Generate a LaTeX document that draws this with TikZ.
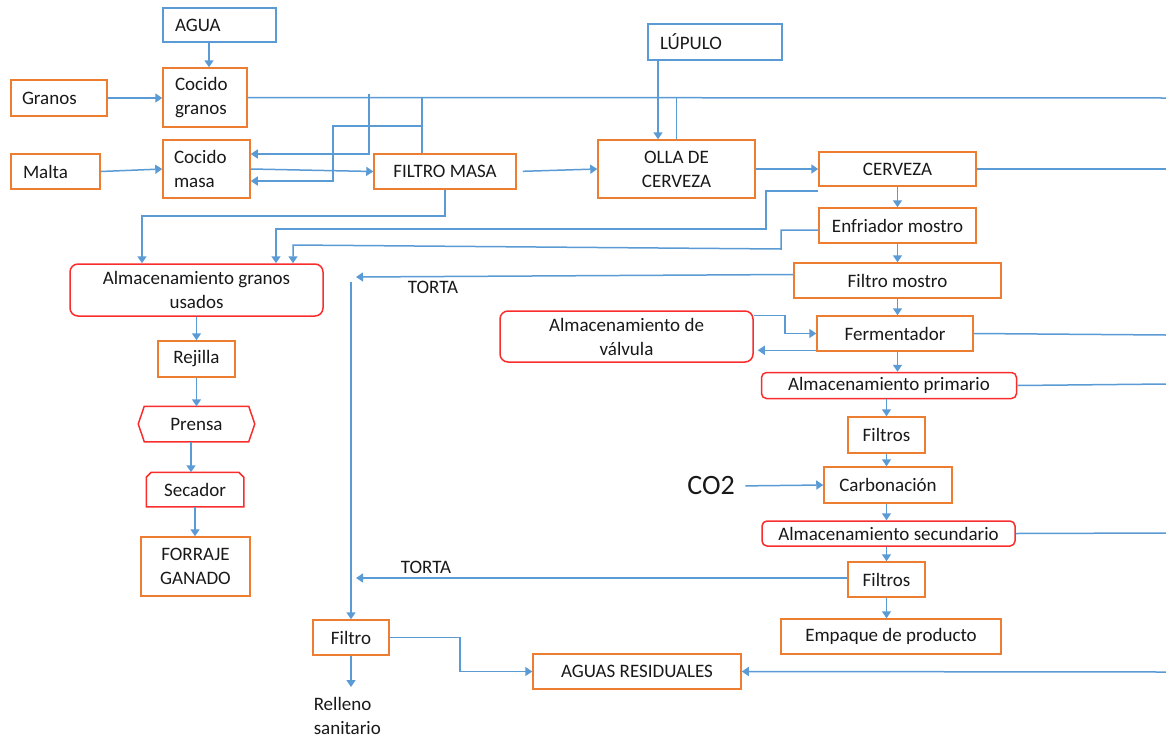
\documentclass[tikz,border=0pt]{standalone}
\usepackage{fontspec}
\setmainfont{Carlito}
\usetikzlibrary{arrows.meta,calc}
\definecolor{lineblue}{RGB}{91,155,213}
\definecolor{boxorange}{RGB}{237,125,49}
\definecolor{boxred}{RGB}{250,45,45}
\definecolor{ink}{RGB}{25,25,25}
\tikzset{
  base/.style={font=\fontsize{19}{24}\selectfont, text=ink, inner sep=0pt, line width=1.5pt},
  obox/.style={base, draw=boxorange},
  bbox/.style={base, draw=lineblue},
  rbox/.style={base, draw=boxred, rounded corners=8pt},
  plain/.style={base},
  redline/.style={draw=boxred, line width=1.5pt},
  flow/.style={draw=lineblue, line width=1.5pt},
  arr/.style={flow, -{Triangle[length=7pt,width=9pt]}},
}
\begin{document}
\begin{tikzpicture}[x=1pt,y=-1pt]
\fill[white] (0,0) rectangle (1166,739);
\useasboundingbox (0,0) rectangle (1166,739);

% --- brewing line: inputs and cooking ---
\node[bbox, minimum width=113pt, minimum height=34pt, text width=89pt, align=left] (agua) at (219.5,25) {AGUA};
\node[obox, minimum width=96pt, minimum height=36pt, text width=74pt, align=left] (granos) at (59,98) {Granos};
\node[obox, minimum width=84pt, minimum height=59pt, text width=60pt, align=left] (cgranos) at (205,97.5) {Cocido\\granos};
\node[obox, minimum width=89pt, minimum height=35pt, text width=65pt, align=left] (malta) at (55.5,171.5) {Malta};
\node[obox, minimum width=87pt, minimum height=58pt, text width=65pt, align=left] (cmasa) at (206.5,169) {Cocido\\masa};
\node[obox, minimum width=142pt, minimum height=35pt] (fmasa) at (445,171.5) {FILTRO MASA};
\node[bbox, minimum width=134pt, minimum height=36pt, text width=110pt, align=left] (lupulo) at (715,42) {LÚPULO};
\node[obox, minimum width=157pt, minimum height=58pt, align=center] (olla) at (676.5,169) {OLLA DE\\CERVEZA};

% --- main process column ---
\node[obox, minimum width=157pt, minimum height=34pt] (cerveza) at (897.5,169) {CERVEZA};
\node[obox, minimum width=157pt, minimum height=35pt] (enf) at (897.5,225.5) {Enfriador mostro};
\node[obox, minimum width=207pt, minimum height=35pt] (fmost) at (897.5,280.5) {Filtro mostro};
\node[obox, minimum width=156pt, minimum height=35pt] (ferm) at (895,333.5) {Fermentador};
\node[rbox, minimum width=253pt, minimum height=51pt, align=center] (valv) at (626.5,336.5) {Almacenamiento de\\válvula};
\node[rbox, rounded corners=5pt, minimum width=255pt, minimum height=26pt] (prim) at (889,385.5) {Almacenamiento primario};
\node[obox, minimum width=77pt, minimum height=36pt] (fil1) at (886.5,435) {Filtros};
\node[obox, minimum width=128pt, minimum height=36pt] (carb) at (888,485) {Carbonación};
\node[plain, font=\fontsize{28}{32}\selectfont] (co2) at (711,486) {CO2};
\node[rbox, rounded corners=5pt, minimum width=253pt, minimum height=25pt] (sec) at (888.5,533.5) {Almacenamiento secundario};
\node[obox, minimum width=77pt, minimum height=35pt] (fil2) at (886.5,579.5) {Filtros};
\node[obox, minimum width=220pt, minimum height=35pt] (emp) at (891,636.5) {Empaque de producto};

% --- waste handling ---
\node[obox, minimum width=208pt, minimum height=35pt] (aguas) at (637,671.5) {AGUAS RESIDUALES};
\node[obox, minimum width=76pt, minimum height=35pt] (filtro) at (351,637.5) {Filtro};
\node[plain, anchor=west, align=left] (relleno) at (313,716) {Relleno\\sanitario};
\node[plain] (torta1) at (433,287) {TORTA};
\node[plain] (torta2) at (426,567) {TORTA};

% --- spent grain line ---
\node[rbox, minimum width=253pt, minimum height=52pt, align=center] (almg) at (196.5,290) {Almacenamiento granos\\usados};
\node[obox, minimum width=77pt, minimum height=36pt] (rej) at (196.5,359) {Rejilla};
\node[plain, minimum width=115pt, minimum height=34pt] (prensa) at (196.5,424) {Prensa};
\node[plain, minimum width=96pt, minimum height=33pt] (secador) at (195,489.5) {Secador};
\node[obox, minimum width=109pt, minimum height=59pt, align=center] (forraje) at (195.5,566.5) {FORRAJE\\GANADO};

% hexagon and snipped outlines
\draw[redline] ([xshift=6pt]prensa.north west) -- ([xshift=-6pt]prensa.north east) -- (prensa.east)
  -- ([xshift=-6pt]prensa.south east) -- ([xshift=6pt]prensa.south west) -- (prensa.west) -- cycle;
\draw[redline] (secador.south west) -- ([yshift=-5pt]secador.north west) -- ([xshift=5pt]secador.north west)
  -- ([xshift=-5pt]secador.north east) -- ([yshift=-5pt]secador.north east) -- (secador.south east) -- cycle;

% helper points
\coordinate (fmtop) at ([xshift=-23pt]fmasa.north);
\coordinate (lupout) at ([xshift=-57pt]lupulo.south);
\coordinate (fermback) at ([yshift=1.5pt]ferm.south west);
\coordinate (j1) at (369,94);
\coordinate (t0) at (351,282);
\coordinate (t1) at (356,277);
\coordinate (t2) at (356,578);
\coordinate (rs) at (351,687);
\coordinate (e1) at (1166,98);
\coordinate (e2) at (1166,169);
\coordinate (e3) at (1166,335);
\coordinate (e4) at (1166,384);
\coordinate (e5) at (1166,533);
\coordinate (e6) at (1166,672);

% connectors: cooking
\draw[arr] ([xshift=-10.5pt]agua.south) -- ([xshift=4pt]cgranos.north);
\draw[arr] (granos.east) -- (granos.east -| cgranos.west);
\draw[arr] (malta.east) -- (cmasa.west);
\draw[flow] (cgranos.east) -- (e1);
\draw[arr] (j1) |- (cmasa.east |- 0,154);
\draw[flow] (fmtop) -- (fmtop |- cgranos.east);
\draw[arr] (fmtop |- 0,126) -| (333,181) -- (cmasa.east |- 0,181);
\draw[arr] (cmasa.east) -- (fmasa.west);
\draw[arr, shorten <=6pt] (fmasa.east) -- (olla.west);
\draw[arr] (lupout) -- (lupout |- olla.north);
\draw[flow] (olla.north) -- (olla.north |- cgranos.east);
\draw[arr] (olla.east) -- (olla.east -| cerveza.west);
\draw[flow] (cerveza.east) -- (e2);

% connectors: main column
\draw[arr] (cerveza.south) -- (enf.north);
\draw[arr] (enf.south) -- (fmost.north);
\draw[arr] (fmost.south) -- (fmost.south |- ferm.north);
\draw[arr] (ferm.south -| fmost.south) -- (prim.north -| fmost.south);
\draw[arr] (prim.south -| fil1.north) -- (fil1.north);
\draw[arr] (fil1.south) -- (fil1.south |- carb.north);
\draw[arr] (carb.south -| fil1.south) -- (sec.north -| fil1.south);
\draw[arr] (sec.south -| fil2.north) -- (fil2.north);
\draw[arr] (fil2.south) -- (fil2.south |- emp.north);
\draw[arr, shorten <=10pt] (co2.east) -- (carb.west);
\draw[arr] ([yshift=-5pt]valv.north east) -| (785,333.5) -- (ferm.west);
\draw[arr, shorten >=4pt] (fermback) -- (fermback -| valv.east);
\draw[flow] (ferm.east) -- (e3);
\draw[flow] (prim.east) -- (e4);
\draw[flow] (sec.east) -- (e5);

% connectors: spent grain
\draw[arr] (fmasa.south) |- (142,216) -- (almg.north -| 142,0);
\draw[arr] ([yshift=-4pt]cerveza.south west) -| (766,229) -| (almg.north -| 276,0);
\draw[arr] ([yshift=-4.5pt]enf.west) -| (781,249) -- (293,245) -- (almg.north -| 293,0);
\draw[arr] (almg.south) -- (rej.north);
\draw[arr] (rej.south) -- (prensa.north);
\draw[arr] ([xshift=-5.5pt]prensa.south) -- ([xshift=-5.5pt]prensa.south |- secador.north);
\draw[arr] (secador.south) -- (secador.south |- forraje.north);

% connectors: cake and waste water
\draw[arr] ([yshift=6pt]fmost.west) -- (t1);
\draw[arr] (t0) -- (filtro.north);
\draw[arr] ([yshift=1.5pt]fil2.west) -- (t2);
\draw[arr] (filtro.south) -- (rs);
\draw[arr] (filtro.east) -| (460,671.5) -- (aguas.west);
\draw[arr] (e6) -- (aguas.east);
\end{tikzpicture}
\end{document}
